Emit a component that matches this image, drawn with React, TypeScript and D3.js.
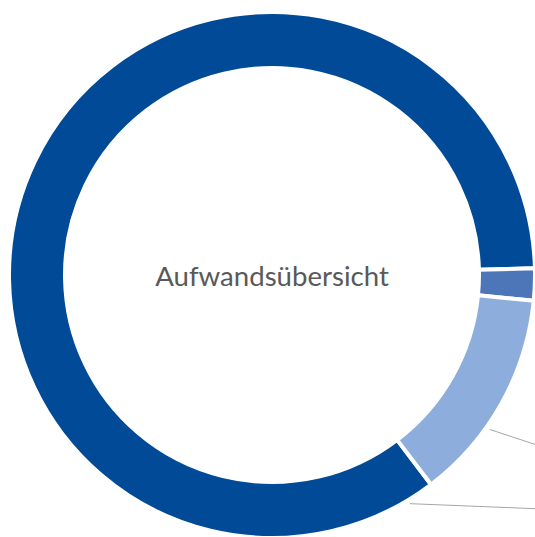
import React from "react";
import * as d3 from "d3";

const categories = ["Aufwand A", "Aufwand B", "Aufwand C"];
const values = [84.9, 1.97, 13.1];
const colors = ["#004a97", "#4d76b9", "#8daedd"];
const centerTitle = "Aufwandsübersicht";
// connector anchor position within slice (fraction)
const connectorSlices = [0, 2];
const connectorFractions = [0.02, 0.63];
const connectorSlopes = [0.04, 0.33];

const W = 535;
const H = 537;

export default function App() {
  const cx = 272;
  const cy = 275;
  const outerR = 263;
  const innerR = 207;
  const start = (142.8 * Math.PI) / 180;

  const pie = d3
    .pie<number>()
    .sort(null)
    .value((d) => d)
    .startAngle(start)
    .endAngle(start + 2 * Math.PI);
  const arcs = pie(values);
  const arc = d3.arc<d3.PieArcDatum<number>>().innerRadius(innerR).outerRadius(outerR);

  const connectors = connectorSlices.map((si, i) => {
    const a = arcs[si];
    const ang = a.startAngle + (a.endAngle - a.startAngle) * connectorFractions[i];
    const r0 = outerR + 4;
    const x0 = Math.sin(ang) * r0;
    const y0 = -Math.cos(ang) * r0;
    return { x0, y0, slope: connectorSlopes[i] };
  });

  return (
    <svg
      width={W}
      height={H}
      style={{ position: "absolute", left: 0, top: 0, background: "#fff" }}
    >
      <g transform={`translate(${cx},${cy})`}>
        {arcs.map((a, i) => (
          <path
            key={categories[i]}
            d={arc(a) || ""}
            fill={colors[i]}
            stroke="#ffffff"
            strokeWidth={4}
            strokeLinejoin="round"
          />
        ))}
        {connectors.map((c, i) => {
          const x1 = W - cx + 40;
          const y1 = c.y0 + (x1 - c.x0) * c.slope;
          return (
            <line
              key={i}
              x1={c.x0}
              y1={c.y0}
              x2={x1}
              y2={y1}
              stroke="#a6a6a6"
              strokeWidth={1}
            />
          );
        })}
        <text
          x={0}
          y={0}
          textAnchor="middle"
          dominantBaseline="central"
          fontFamily="Lato, sans-serif"
          fontSize={27.6}
          fill="#595959"
        >
          {centerTitle}
        </text>
      </g>
    </svg>
  );
}
